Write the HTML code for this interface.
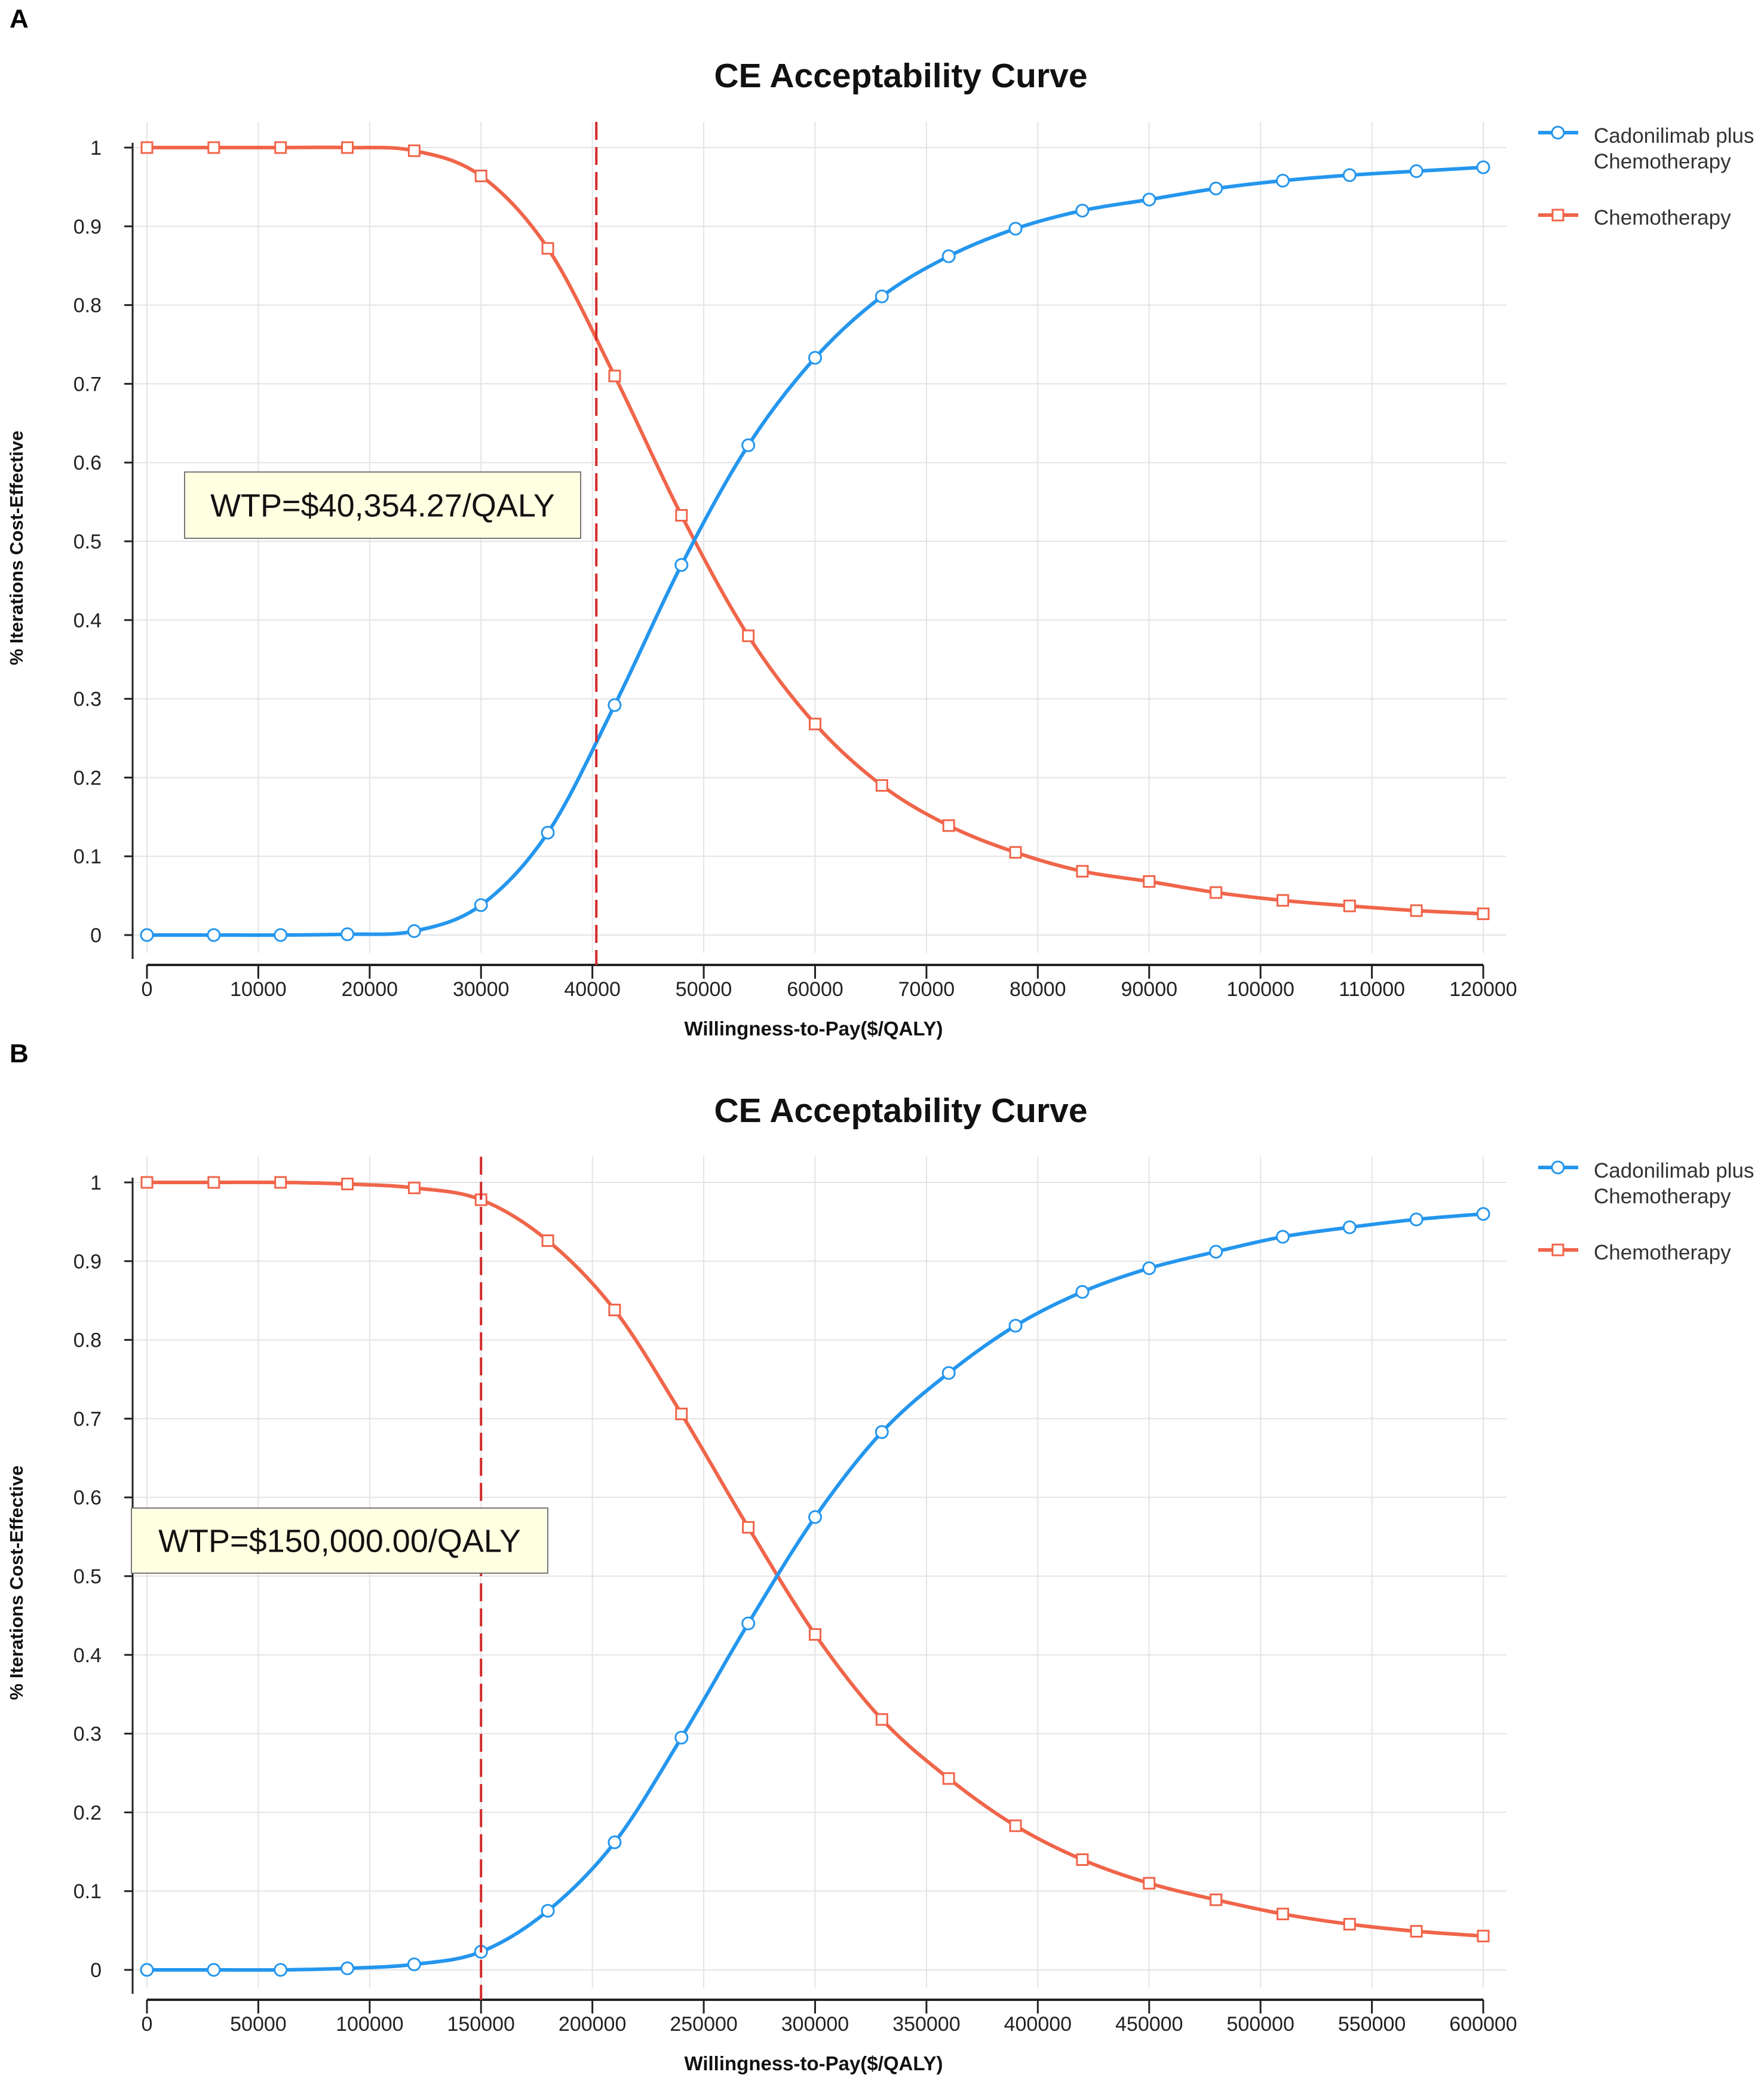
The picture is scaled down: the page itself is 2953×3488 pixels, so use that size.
<!DOCTYPE html>
<html><head><meta charset="utf-8">
<style>
html,body{margin:0;padding:0;background:#fff;}
svg{display:block;font-family:"Liberation Sans",Arial,sans-serif;}
</style></head>
<body>
<svg id="chart" width="2953" height="3488" viewBox="0 0 2953 3488" xmlns="http://www.w3.org/2000/svg"></svg>
<script>
// Panel A data
const xA = [0,6000,12000,18000,24000,30000,36000,42000,48000,54000,60000,66000,72000,78000,84000,90000,96000,102000,108000,114000,120000];
const blueA = [0,0,0,0.001,0.005,0.038,0.13,0.292,0.47,0.622,0.733,0.811,0.862,0.897,0.92,0.934,0.948,0.958,0.965,0.97,0.975];
const redA = [1,1,1,1,0.996,0.964,0.872,0.71,0.533,0.38,0.268,0.19,0.139,0.105,0.081,0.068,0.054,0.044,0.037,0.031,0.027];
const xTicksA = [0,10000,20000,30000,40000,50000,60000,70000,80000,90000,100000,110000,120000];
const wtpA = 40354.27;
const wtpLabelA = "WTP=$40,354.27/QALY";
// Panel B data
const xB = [0,30000,60000,90000,120000,150000,180000,210000,240000,270000,300000,330000,360000,390000,420000,450000,480000,510000,540000,570000,600000];
const blueB = [0,0,0,0.002,0.007,0.023,0.075,0.162,0.295,0.44,0.575,0.683,0.758,0.818,0.861,0.891,0.912,0.931,0.943,0.953,0.96];
const redB = [1,1,1,0.998,0.993,0.978,0.926,0.838,0.706,0.562,0.426,0.318,0.243,0.183,0.14,0.11,0.089,0.071,0.058,0.049,0.043];
const xTicksB = [0,50000,100000,150000,200000,250000,300000,350000,400000,450000,500000,550000,600000];
const wtpB = 150000;
const wtpLabelB = "WTP=$150,000.00/QALY";
const yTicks = [0,0.1,0.2,0.3,0.4,0.5,0.6,0.7,0.8,0.9,1];
const yTickLabels = ["0","0.1","0.2","0.3","0.4","0.5","0.6","0.7","0.8","0.9","1"];

const NS="http://www.w3.org/2000/svg";
const svg=document.getElementById('chart');
function mk(tag,attrs,parent){const e=document.createElementNS(NS,tag);for(const k in attrs)e.setAttribute(k,attrs[k]);(parent||svg).appendChild(e);return e;}
function smooth(pts){let d=`M${pts[0][0]},${pts[0][1]}`;for(let i=0;i<pts.length-1;i++){const p0=pts[i-1]||pts[i],p1=pts[i],p2=pts[i+1],p3=pts[i+2]||p2;const c1x=p1[0]+(p2[0]-p0[0])/6,c1y=p1[1]+(p2[1]-p0[1])/6,c2x=p2[0]-(p3[0]-p1[0])/6,c2y=p2[1]-(p3[1]-p1[1])/6;d+=` C${c1x},${c1y} ${c2x},${c2y} ${p2[0]},${p2[1]}`;}return d;}

function panel(off,letter,xs,blue,red,ticks,xmax,wtp,label,box){
  const g=mk('g',{});
  
  
  const X0=246,X1=2483,Y0=1565+off,Y1=247+off;
  const AX=1615+off;
  const sx=v=>X0+v/xmax*(X1-X0), sy=v=>Y0+v*(Y1-Y0);
  const L=mk('text',{x:16,y:46+off,'font-size':44,'font-weight':'bold',fill:'#000'},g);L.textContent=letter;
  
  const t=mk('text',{x:1508,y:146+off,'font-size':57,'font-weight':'bold','text-anchor':'middle',fill:'#111'},g);t.textContent='CE Acceptability Curve';
  
  ticks.forEach(v=>{const l=mk('line',{x1:sx(v),x2:sx(v),y1:204+off,y2:AX-20,stroke:'#e4e4e4','stroke-width':2},g);
    });
  yTicks.forEach(v=>{const l=mk('line',{x1:222,x2:2522,y1:sy(v),y2:sy(v),stroke:'#e4e4e4','stroke-width':2},g);
    });
  const ya=mk('line',{x1:222,x2:222,y1:sy(1)-8,y2:AX-10,stroke:'#222','stroke-width':3},g);
  
  const xa=mk('line',{x1:X0,x2:X1,y1:AX,y2:AX,stroke:'#222','stroke-width':4},g);
  
  yTicks.forEach((v,i)=>{mk('line',{x1:208,x2:222,y1:sy(v),y2:sy(v),stroke:'#222','stroke-width':3},g);
    const tx=mk('text',{x:170,y:sy(v)+12,'font-size':34,'text-anchor':'end',fill:'#222'},g);tx.textContent=yTickLabels[i];
    });
  ticks.forEach(v=>{mk('line',{x1:sx(v),x2:sx(v),y1:AX,y2:AX+23,stroke:'#222','stroke-width':3},g);
    const tx=mk('text',{x:sx(v),y:AX+52,'font-size':34,'text-anchor':'middle',fill:'#222'},g);tx.textContent=String(v);
    });
  const xt=mk('text',{x:1362,y:AX+118,'font-size':33,'font-weight':'bold','text-anchor':'middle',fill:'#111'},g);xt.textContent='Willingness-to-Pay($/QALY)';
  
  const yt=mk('text',{x:0,y:0,'font-size':31,'font-weight':'bold','text-anchor':'middle',fill:'#111',transform:`translate(38,${917+off}) rotate(-90)`},g);yt.textContent='% Iterations Cost-Effective';
  
  const bp=xs.map((x,i)=>[sx(x),sy(blue[i])]), rp=xs.map((x,i)=>[sx(x),sy(red[i])]);
  const rl=mk('path',{d:smooth(rp),fill:'none',stroke:'#f0654a','stroke-width':6},g);
  
  const bl=mk('path',{d:smooth(bp),fill:'none',stroke:'#2496ee','stroke-width':6},g);
  
  rp.forEach(p=>{const r=mk('rect',{x:p[0]-9,y:p[1]-9,width:18,height:18,fill:'#fff',stroke:'#f0654a','stroke-width':3},g);
    });
  bp.forEach(p=>{const c=mk('circle',{cx:p[0],cy:p[1],r:10,fill:'#fff',stroke:'#2496ee','stroke-width':3},g);
    });
  const wl=mk('line',{x1:sx(wtp),x2:sx(wtp),y1:204+off,y2:AX,stroke:'#d42a2a','stroke-width':4,'stroke-dasharray':'30,12'},g);
  
  const b=mk('rect',{x:box[0],y:box[1]+off,width:box[2],height:box[3],fill:'#ffffe1',stroke:'#777','stroke-width':2},g);
  
  const bt=mk('text',{x:box[0]+box[2]/2,y:box[1]+off+box[3]/2+19,'font-size':54,'text-anchor':'middle',fill:'#111'},g);bt.textContent=label;
  
  const l1=mk('line',{x1:2575,x2:2642,y1:222+off,y2:222+off,stroke:'#2496ee','stroke-width':6},g);
  
  mk('circle',{cx:2608,cy:222+off,r:10,fill:'#fff',stroke:'#2496ee','stroke-width':3},g);
  const lt1=mk('text',{x:2668,y:239+off,'font-size':35,fill:'#333'},g);lt1.textContent='Cadonilimab plus';
  
  const lt1b=mk('text',{x:2668,y:282+off,'font-size':35,fill:'#333'},g);lt1b.textContent='Chemotherapy';
  
  const l2=mk('line',{x1:2575,x2:2642,y1:360+off,y2:360+off,stroke:'#f0654a','stroke-width':6},g);
  
  mk('rect',{x:2599,y:351+off,width:18,height:18,fill:'#fff',stroke:'#f0654a','stroke-width':3},g);
  const lt2=mk('text',{x:2668,y:376+off,'font-size':35,fill:'#333'},g);lt2.textContent='Chemotherapy';
  
}
panel(0,'A',xA,blueA,redA,xTicksA,120000,wtpA,wtpLabelA,[309,790,663,111]);
panel(1732,'B',xB,blueB,redB,xTicksB,600000,wtpB,wtpLabelB,[220,792,697,109]);
</script>
</body></html>
